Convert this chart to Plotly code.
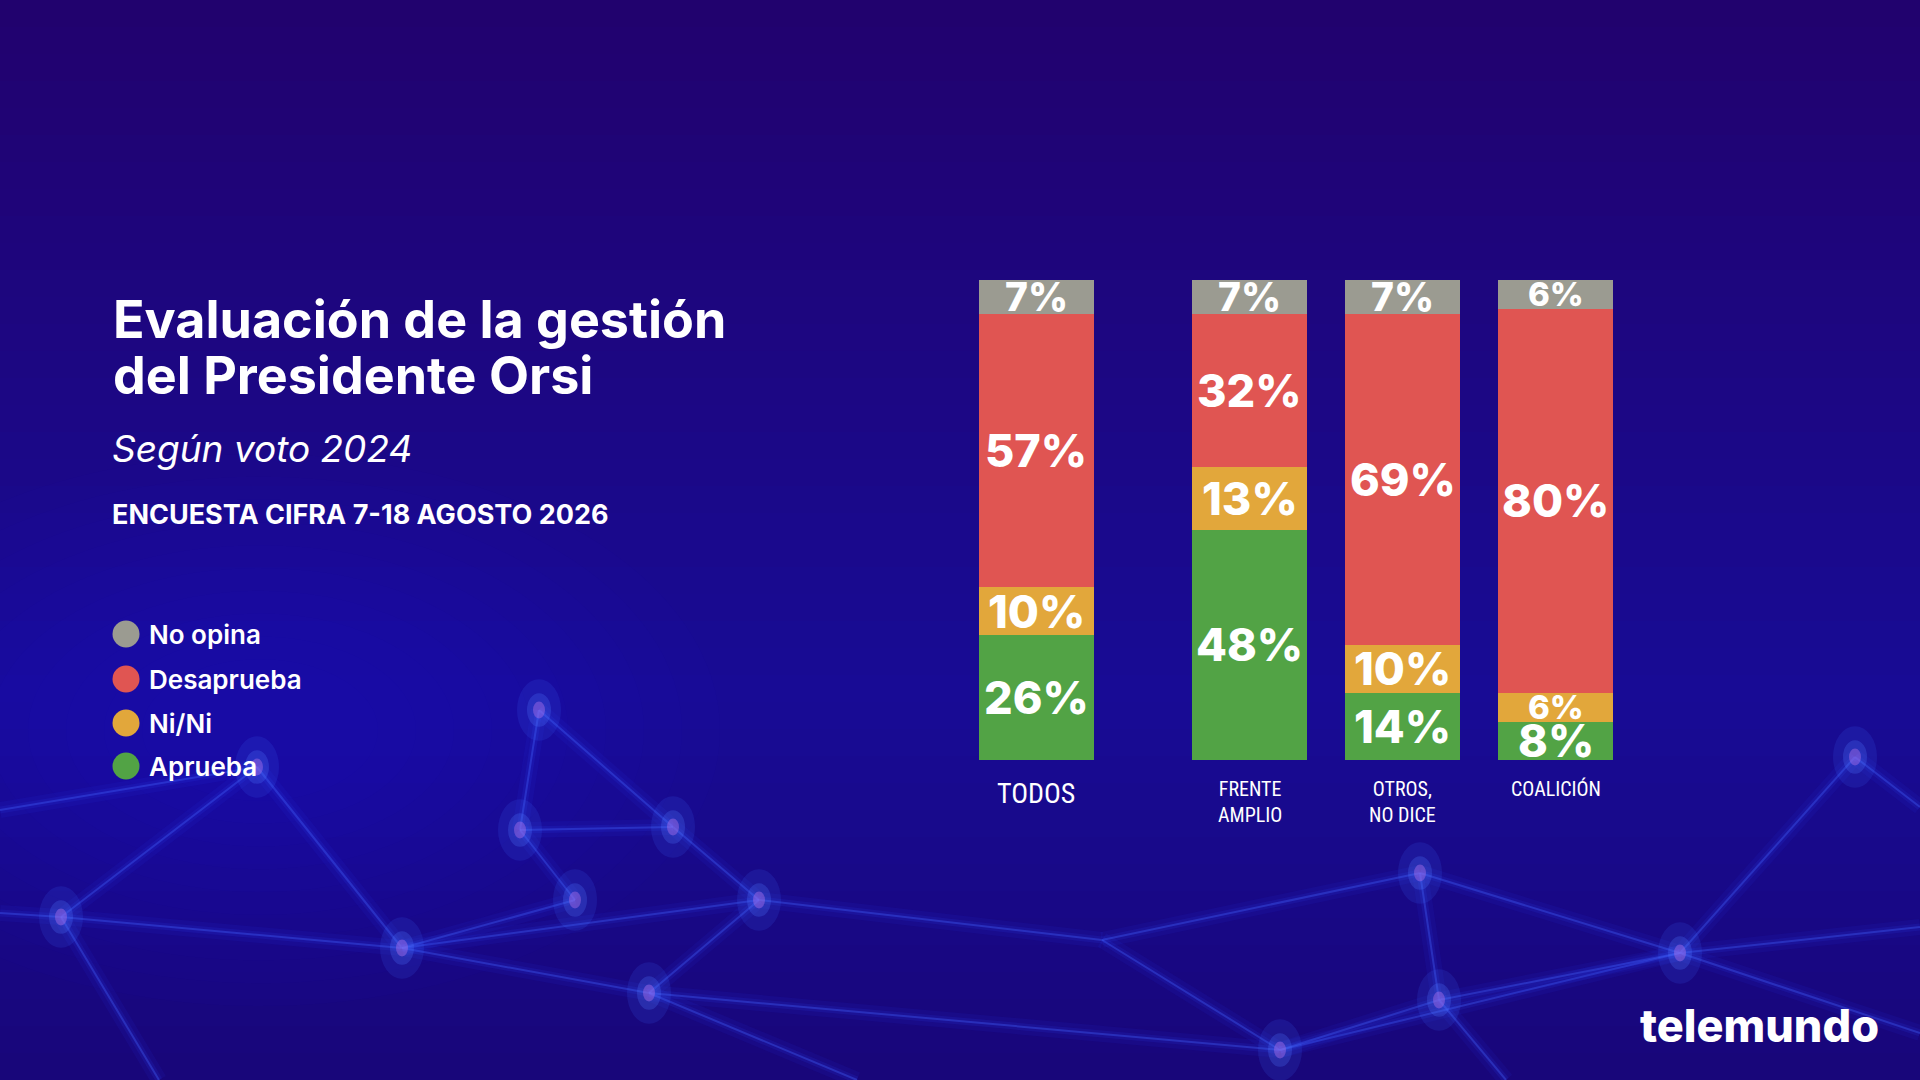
import plotly.graph_objects as go

# data
categories = ["TODOS", "FRENTE<br>AMPLIO", "OTROS,<br>NO DICE", "COALICIÓN"]
series = ["Aprueba", "Ni/Ni", "Desaprueba", "No opina"]
aprueba = [26, 48, 14, 8]
nini = [10, 13, 10, 6]
desaprueba = [57, 32, 69, 80]
no_opina = [7, 7, 7, 6]
colors = ["#52a345", "#e2a73b", "#e05552", "#9b9b91"]

title_lines = ["Evaluación de la gestión", "del Presidente Orsi"]
subtitle = "Según voto 2024"
source = "ENCUESTA CIFRA 7-18 AGOSTO 2026"
brand = "telemundo"

W, H = 1920, 1080
L, R, T, B = 960, 288, 280, 320
PW, PH = W - L - R, H - T - B
GROUP_GAP = 0.395  # extra space after the "TODOS" bar
x_pos = [i + (GROUP_GAP if i > 0 else 0) for i in range(len(categories))]


def px(x, y):
    # pixel position on the 1920x1080 slide -> paper coords
    return (x - L) / PW, (H - B - y) / PH


fig = go.Figure()
values = [aprueba, nini, desaprueba, no_opina]
for name, vals, col in zip(series, values, colors):
    fig.add_trace(go.Bar(
        name=name, x=x_pos, y=vals, width=0.75,
        marker=dict(color=col, line=dict(width=0)),
        showlegend=False, hoverinfo="skip",
    ))

annotations = []
shapes = []

# value labels centred in each segment
base = [0] * len(categories)
for vals in values:
    for i, v in enumerate(vals):
        annotations.append(dict(
            x=x_pos[i], y=base[i] + v / 2, xref="x", yref="y",
            text=f"{v}%", showarrow=False, xanchor="center", yanchor="middle",
            font=dict(family="Inter", size=min(45, 6 * v - 3), color="white", weight=800),
        ))
        base[i] += v

# category labels under the bars
for i, cat in enumerate(categories):
    annotations.append(dict(
        x=x_pos[i], y=px(0, 775)[1], xref="x", yref="paper",
        text=cat, showarrow=False, xanchor="center", yanchor="top",
        font=dict(family="Liberation Sans Narrow, Roboto Condensed, Arial Narrow, Roboto",
                  size=28 if i == 0 else 20, color="white"),
    ))

# background gradient
top_c, mid_c, bot_c = (34, 2, 110), (24, 12, 150), (24, 6, 122)
n_bands = 40
for k in range(n_bands):
    y0, y1 = H * k / n_bands, H * (k + 1) / n_bands + 1
    t = (y0 + y1) / 2 / H
    if t < 0.65:
        f = t / 0.65
        c = [a + (b - a) * f for a, b in zip(top_c, mid_c)]
    else:
        f = (t - 0.65) / 0.35
        c = [a + (b - a) * f for a, b in zip(mid_c, bot_c)]
    xa, ya = px(0, y0)
    xb, yb = px(W, y1)
    shapes.append(dict(type="rect", xref="paper", yref="paper", x0=xa, x1=xb, y0=yb, y1=ya,
                       fillcolor="rgb(%d,%d,%d)" % tuple(int(v) for v in c),
                       line=dict(width=0), layer="below"))

# soft haze bottom-left
for k in range(10):
    r = 460 - k * 38
    xa, ya = px(260 - r, 730 - r * 0.6)
    xb, yb = px(260 + r, 730 + r * 0.6)
    shapes.append(dict(type="circle", xref="paper", yref="paper", x0=xa, x1=xb, y0=yb, y1=ya,
                       fillcolor="rgba(30,45,235,0.03)", line=dict(width=0), layer="below"))

# decorative network in the background
nodes = {
    "A": (61, 917), "B": (257, 767), "C": (402, 948), "D": (520, 830), "E": (539, 710),
    "F": (673, 827), "G": (649, 993), "H": (759, 900), "I": (1280, 1050), "J": (1680, 953),
    "K": (1855, 757), "L": (1420, 873), "M": (1439, 1000), "N": (575, 900),
    "p0": (0, 913), "p1": (0, 810), "p2": (159, 1080), "p3": (857, 1080), "p4": (1920, 927),
    "p5": (1920, 807), "p6": (1506, 1080), "p7": (1102, 940), "p8": (1920, 1033),
}
edges = [("p1", "B"), ("B", "A"), ("A", "p0"), ("A", "C"), ("A", "p2"), ("B", "C"),
         ("C", "G"), ("C", "H"), ("D", "E"), ("E", "F"), ("D", "N"), ("N", "C"), ("D", "F"),
         ("G", "p3"), ("G", "H"), ("H", "F"), ("H", "p7"), ("p7", "I"), ("I", "G"),
         ("I", "J"), ("J", "p4"), ("J", "K"), ("K", "p5"), ("L", "M"), ("M", "J"),
         ("L", "J"), ("M", "p6"), ("L", "p7"), ("I", "M"), ("J", "p8")]

for a, b in edges:
    xa, ya = px(*nodes[a])
    xb, yb = px(*nodes[b])
    for col, wd in [("rgba(40,60,255,0.08)", 16), ("rgba(50,75,255,0.12)", 7),
                    ("rgba(70,100,255,0.35)", 2)]:
        shapes.append(dict(type="line", xref="paper", yref="paper", x0=xa, y0=ya, x1=xb, y1=yb,
                           line=dict(color=col, width=wd), layer="below"))

for key, (nx, ny) in nodes.items():
    if key.startswith("p"):
        continue
    for r, col in [(22, "rgba(60,110,255,0.15)"), (12, "rgba(80,120,255,0.25)"),
                   (6, "rgba(170,110,230,0.45)")]:
        xa, ya = px(nx - r, ny - r * 1.4)
        xb, yb = px(nx + r, ny + r * 1.4)
        shapes.append(dict(type="circle", xref="paper", yref="paper", x0=xa, x1=xb, y0=yb, y1=ya,
                           fillcolor=col, line=dict(width=0), layer="below"))

# title block
title_y = [319, 375]
for line, yy in zip(title_lines, title_y):
    annotations.append(dict(
        x=px(111, 0)[0], y=px(0, yy)[1], xref="paper", yref="paper", text=line,
        showarrow=False, xanchor="left", yanchor="middle",
        font=dict(family="Inter", size=52, color="white", weight=700),
    ))
annotations.append(dict(
    x=px(110, 0)[0], y=px(0, 448)[1], xref="paper", yref="paper", text=subtitle,
    showarrow=False, xanchor="left", yanchor="middle",
    font=dict(family="Inter", size=37, color="white", weight=400, style="italic"),
))
annotations.append(dict(
    x=px(110, 0)[0], y=px(0, 514)[1], xref="paper", yref="paper", text=source,
    showarrow=False, xanchor="left", yanchor="middle",
    font=dict(family="Inter", size=27, color="white", weight=700),
))

# legend (top to bottom: No opina ... Aprueba)
legend_y = [634, 679, 723, 766]
for name, col, yy in zip(series[::-1], colors[::-1], legend_y):
    xa, ya = px(112.5, yy - 13.5)
    xb, yb = px(139.5, yy + 13.5)
    shapes.append(dict(type="circle", xref="paper", yref="paper", x0=xa, x1=xb, y0=yb, y1=ya,
                       fillcolor=col, line=dict(width=0)))
    annotations.append(dict(
        x=px(147, 0)[0], y=px(0, yy)[1], xref="paper", yref="paper", text=name,
        showarrow=False, xanchor="left", yanchor="middle",
        font=dict(family="Inter", size=26, color="white", weight=600),
    ))

# brand
annotations.append(dict(
    x=px(1638, 0)[0], y=px(0, 1025)[1], xref="paper", yref="paper", text=brand,
    showarrow=False, xanchor="left", yanchor="middle",
    font=dict(family="Inter", size=45, color="white", weight=800),
))

fig.update_layout(
    width=W, height=H,
    margin=dict(l=L, r=R, t=T, b=B),
    barmode="stack",
    paper_bgcolor="#1f0470",
    plot_bgcolor="rgba(0,0,0,0)",
    xaxis=dict(range=[-0.5, x_pos[-1] + 0.5], visible=False, fixedrange=True),
    yaxis=dict(range=[0, 100], visible=False, fixedrange=True),
    annotations=annotations,
    shapes=shapes,
    bargap=0,
)

fig.write_html(
    "out.html",
    config={"displayModeBar": False},
    post_script="document.body.style.margin='0';document.body.style.overflow='hidden';",
)
